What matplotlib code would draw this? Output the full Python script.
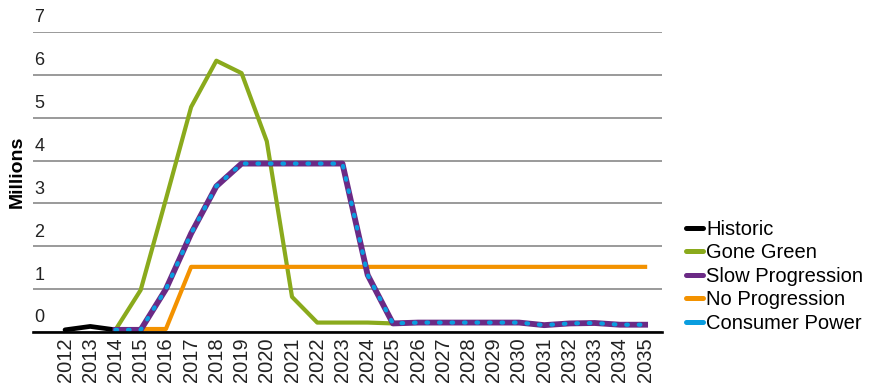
import matplotlib
matplotlib.use("Agg")
import matplotlib.pyplot as plt
from matplotlib.lines import Line2D
import numpy as np

plt.rcParams['font.family'] = ['Liberation Sans', 'DejaVu Sans']

years = list(range(2012, 2036))
nan = np.nan

historic = [0.05, 0.13, 0.05] + [nan] * 21
gone_green = [nan, nan, 0.05, 0.98, 3.1, 5.25, 6.33, 6.04, 4.45, 0.82,
              0.22, 0.22, 0.22, 0.2, 0.22, 0.22, 0.22, 0.22, 0.22, 0.16,
              0.2, 0.21, 0.17, 0.17]
slow_progression = [nan, nan, 0.05, 0.05, 1.0, 2.3, 3.4, 3.93, 3.93, 3.93,
                    3.93, 3.93, 1.33, 0.2, 0.22, 0.22, 0.22, 0.22, 0.22, 0.16,
                    0.2, 0.21, 0.17, 0.17]
no_progression = [nan, nan, nan, 0.07, 0.07, 1.52, 1.52, 1.52, 1.52, 1.52,
                  1.52, 1.52, 1.52, 1.52, 1.52, 1.52, 1.52, 1.52, 1.52, 1.52,
                  1.52, 1.52, 1.52, 1.52]
consumer_power = list(slow_progression)

c_hist = '#000000'
c_green = '#8aaa1c'
c_purple = '#6b2a85'
c_orange = '#f39200'
c_blue = '#0a9ddf'

fig = plt.figure(figsize=(8.78, 3.89), dpi=100)
ax = fig.add_axes([33 / 878, 1 - 332 / 389, 629 / 878, 300 / 389])

x = np.arange(len(years))
ax.plot(x, historic, color=c_hist, lw=3.4, solid_capstyle='round', clip_on=False, zorder=3)
ax.plot(x, gone_green, color=c_green, lw=3.0, clip_on=False, zorder=3)
ax.plot(x, no_progression, color=c_orange, lw=3.0, clip_on=False, zorder=3)
ax.plot(x, slow_progression, color=c_purple, lw=4.2, clip_on=False, zorder=4)
ax.plot(x, consumer_power, color=c_blue, lw=3.0, linestyle=(0, (0.4, 2.6)),
        dash_capstyle='round', clip_on=False, zorder=5)

ax.set_ylim(0, 7)
ax.set_xlim(-1.27, 23.67)
ax.set_yticks(range(8))
ax.set_yticklabels([])
ax.tick_params(axis='y', length=0)
ax.yaxis.grid(True, color='#7f7f7f', lw=1.1)
ax.set_axisbelow(True)
for s in ['left', 'right', 'top']:
    ax.spines[s].set_visible(False)
ax.spines['bottom'].set_color('black')
ax.spines['bottom'].set_linewidth(1.9)
ax.spines['bottom'].set_zorder(6)

for v in range(8):
    ax.annotate(str(v), xy=(0, v), xycoords=('axes fraction', 'data'),
                xytext=(1, 4), textcoords='offset points',
                ha='left', va='bottom', fontsize=13, color='#222222')

ax.set_xticks(x)
ax.set_xticklabels([str(y) for y in years], rotation=90, fontsize=14.5, color='#222222')
ax.tick_params(axis='x', length=0, pad=4)

fig.text(17 / 878, 1 - 172 / 389, 'Millions', rotation=90, ha='center', va='center',
         fontsize=14, fontweight='bold')

handles = [
    Line2D([], [], color=c_hist, lw=3.6, solid_capstyle='round'),
    Line2D([], [], color=c_green, lw=3.6, solid_capstyle='round'),
    Line2D([], [], color=c_purple, lw=3.6, solid_capstyle='round'),
    Line2D([], [], color=c_orange, lw=3.6, solid_capstyle='round'),
    Line2D([], [], color=c_blue, lw=3.6, solid_capstyle='round'),
]
labels = ['Historic', 'Gone Green', 'Slow Progression', 'No Progression', 'Consumer Power']
fig.legend(handles, labels, loc='upper left', bbox_to_anchor=(686 / 878, 1 - 220 / 389),
           frameon=False, fontsize=14.5, handlelength=0.85, handletextpad=0.15,
           labelspacing=0.22, borderpad=0, borderaxespad=0)

fig.savefig('out.png', dpi=100)
